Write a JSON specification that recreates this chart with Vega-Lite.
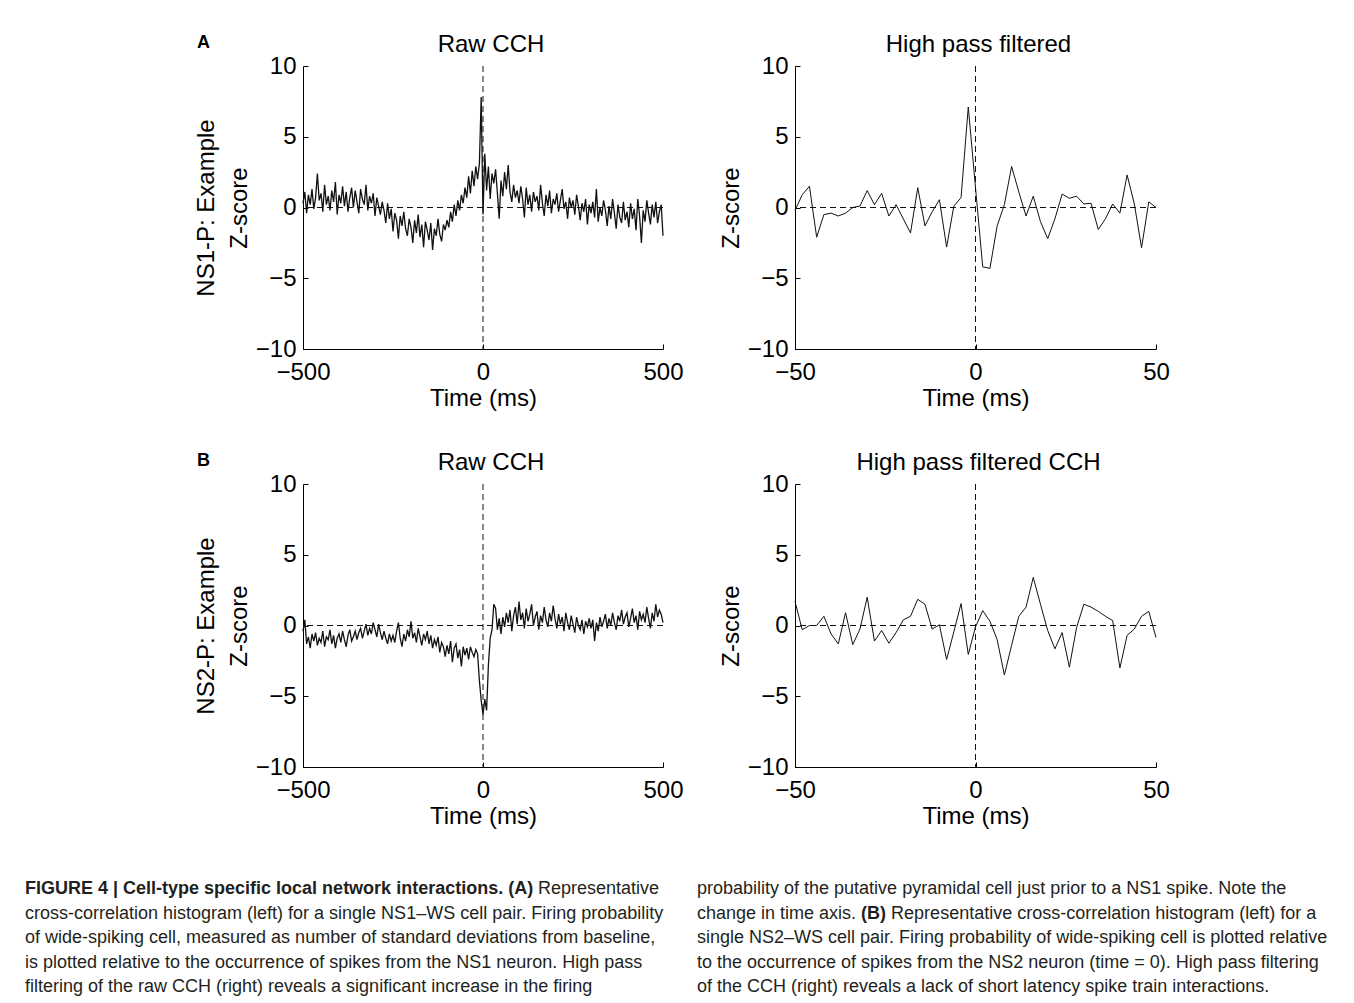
{
"$schema": "https://vega.github.io/schema/vega-lite/v6.json",
"background": "white",
"padding": {"left": 25, "top": 33, "right": 0, "bottom": 0},
"datasets": {
"rawA": [{"t":-500,"z":0.3},{"t":-495,"z":1.1},{"t":-490,"z":-0.4},{"t":-485,"z":0.9},{"t":-480,"z":0.2},{"t":-475,"z":1.3},{"t":-470,"z":-0.1},{"t":-465,"z":0.7},{"t":-460,"z":2.4},{"t":-455,"z":0.5},
{"t":-450,"z":1.0},{"t":-445,"z":-0.3},{"t":-440,"z":1.6},{"t":-435,"z":0.2},{"t":-430,"z":0.8},{"t":-425,"z":-0.2},{"t":-420,"z":1.2},{"t":-415,"z":0.4},{"t":-410,"z":1.8},{"t":-405,"z":-0.5},
{"t":-400,"z":0.9},{"t":-395,"z":0.3},{"t":-390,"z":1.5},{"t":-385,"z":0.1},{"t":-380,"z":1.1},{"t":-375,"z":-0.3},{"t":-370,"z":0.7},{"t":-365,"z":1.4},{"t":-360,"z":0.0},{"t":-355,"z":1.2},
{"t":-350,"z":0.4},{"t":-345,"z":-0.4},{"t":-340,"z":1.3},{"t":-335,"z":0.6},{"t":-330,"z":0.2},{"t":-325,"z":1.6},{"t":-320,"z":-0.2},{"t":-315,"z":0.8},{"t":-310,"z":0.3},{"t":-305,"z":1.0},
{"t":-300,"z":-0.6},{"t":-295,"z":0.7},{"t":-290,"z":0.1},{"t":-285,"z":-0.5},{"t":-280,"z":0.4},{"t":-275,"z":-0.2},{"t":-270,"z":-1.1},{"t":-265,"z":0.3},{"t":-260,"z":-0.8},{"t":-255,"z":-0.1},
{"t":-250,"z":-1.7},{"t":-245,"z":-0.4},{"t":-240,"z":-0.9},{"t":-235,"z":-2.2},{"t":-230,"z":-0.6},{"t":-225,"z":-1.3},{"t":-220,"z":-0.3},{"t":-215,"z":-1.5},{"t":-210,"z":-2.0},{"t":-205,"z":-0.8},
{"t":-200,"z":-1.4},{"t":-195,"z":-2.5},{"t":-190,"z":-0.9},{"t":-185,"z":-1.8},{"t":-180,"z":-0.5},{"t":-175,"z":-2.1},{"t":-170,"z":-1.2},{"t":-165,"z":-2.8},{"t":-160,"z":-1.0},{"t":-155,"z":-1.6},
{"t":-150,"z":-2.3},{"t":-145,"z":-1.1},{"t":-140,"z":-3.0},{"t":-135,"z":-1.5},{"t":-130,"z":-2.0},{"t":-125,"z":-0.8},{"t":-120,"z":-1.9},{"t":-115,"z":-2.4},{"t":-110,"z":-1.2},{"t":-105,"z":-1.6},
{"t":-100,"z":-0.9},{"t":-95,"z":-1.4},{"t":-90,"z":-0.3},{"t":-85,"z":-1.0},{"t":-80,"z":0.2},{"t":-75,"z":-0.6},{"t":-70,"z":0.5},{"t":-65,"z":-0.2},{"t":-60,"z":0.9},{"t":-55,"z":0.3},
{"t":-50,"z":1.4},{"t":-45,"z":0.7},{"t":-40,"z":2.2},{"t":-35,"z":1.0},{"t":-30,"z":2.6},{"t":-25,"z":1.5},{"t":-20,"z":2.9},{"t":-15,"z":2.0},{"t":-10,"z":3.1},{"t":-5,"z":7.8},
{"t":0,"z":-0.5},{"t":5,"z":3.8},{"t":10,"z":1.2},{"t":15,"z":2.9},{"t":20,"z":0.6},{"t":25,"z":2.4},{"t":30,"z":1.7},{"t":35,"z":2.7},{"t":40,"z":1.0},{"t":45,"z":-0.8},
{"t":50,"z":1.9},{"t":55,"z":0.8},{"t":60,"z":2.5},{"t":65,"z":1.3},{"t":70,"z":3.0},{"t":75,"z":1.1},{"t":80,"z":0.4},{"t":85,"z":1.6},{"t":90,"z":0.7},{"t":95,"z":1.2},
{"t":100,"z":0.3},{"t":105,"z":1.5},{"t":110,"z":0.6},{"t":115,"z":-0.7},{"t":120,"z":1.4},{"t":125,"z":0.2},{"t":130,"z":0.9},{"t":135,"z":-0.3},{"t":140,"z":1.1},{"t":145,"z":0.4},
{"t":150,"z":0.8},{"t":155,"z":-0.2},{"t":160,"z":1.6},{"t":165,"z":0.3},{"t":170,"z":-0.6},{"t":175,"z":0.9},{"t":180,"z":0.1},{"t":185,"z":1.2},{"t":190,"z":-0.4},{"t":195,"z":0.6},
{"t":200,"z":0.2},{"t":205,"z":1.0},{"t":210,"z":-0.3},{"t":215,"z":0.5},{"t":220,"z":1.3},{"t":225,"z":-0.1},{"t":230,"z":0.4},{"t":235,"z":-0.8},{"t":240,"z":0.7},{"t":245,"z":0.0},
{"t":250,"z":0.5},{"t":255,"z":-0.5},{"t":260,"z":0.9},{"t":265,"z":0.1},{"t":270,"z":-0.9},{"t":275,"z":0.3},{"t":280,"z":-0.3},{"t":285,"z":0.6},{"t":290,"z":-1.2},{"t":295,"z":0.2},
{"t":300,"z":-0.4},{"t":305,"z":0.4},{"t":310,"z":-0.7},{"t":315,"z":1.3},{"t":320,"z":-1.0},{"t":325,"z":0.0},{"t":330,"z":-0.6},{"t":335,"z":0.5},{"t":340,"z":-0.2},{"t":345,"z":-1.3},
{"t":350,"z":0.1},{"t":355,"z":-0.8},{"t":360,"z":0.6},{"t":365,"z":-0.4},{"t":370,"z":-1.5},{"t":375,"z":0.2},{"t":380,"z":-0.7},{"t":385,"z":-1.1},{"t":390,"z":0.4},{"t":395,"z":-0.9},
{"t":400,"z":-0.3},{"t":405,"z":-1.4},{"t":410,"z":0.3},{"t":415,"z":-0.8},{"t":420,"z":-0.1},{"t":425,"z":-1.6},{"t":430,"z":0.6},{"t":435,"z":-0.6},{"t":440,"z":-2.5},{"t":445,"z":-0.2},
{"t":450,"z":-1.0},{"t":455,"z":0.5},{"t":460,"z":-0.4},{"t":465,"z":-1.2},{"t":470,"z":0.2},{"t":475,"z":-0.7},{"t":480,"z":0.4},{"t":485,"z":-1.1},{"t":490,"z":-0.3},{"t":495,"z":0.2},
{"t":500,"z":-2.0}],
"rawB": [{"t":-500,"z":-0.4},{"t":-495,"z":0.4},{"t":-490,"z":-1.3},{"t":-485,"z":-0.8},{"t":-480,"z":-1.6},{"t":-475,"z":-0.6},{"t":-470,"z":-1.1},{"t":-465,"z":-0.5},{"t":-460,"z":-1.4},{"t":-455,"z":-0.9},
{"t":-450,"z":-1.2},{"t":-445,"z":-0.4},{"t":-440,"z":-1.5},{"t":-435,"z":-0.8},{"t":-430,"z":-1.0},{"t":-425,"z":-0.3},{"t":-420,"z":-1.3},{"t":-415,"z":-0.7},{"t":-410,"z":-1.6},{"t":-405,"z":-0.9},
{"t":-400,"z":-0.6},{"t":-395,"z":-1.2},{"t":-390,"z":-0.4},{"t":-385,"z":-1.0},{"t":-380,"z":-1.5},{"t":-375,"z":-0.7},{"t":-370,"z":-0.3},{"t":-365,"z":-1.1},{"t":-360,"z":-0.8},{"t":-355,"z":-0.4},
{"t":-350,"z":-1.0},{"t":-345,"z":-0.5},{"t":-340,"z":-0.2},{"t":-335,"z":-0.9},{"t":-330,"z":-0.4},{"t":-325,"z":0.1},{"t":-320,"z":-0.7},{"t":-315,"z":-0.2},{"t":-310,"z":-0.6},{"t":-305,"z":0.2},
{"t":-300,"z":-0.3},{"t":-295,"z":-0.8},{"t":-290,"z":0.1},{"t":-285,"z":-0.5},{"t":-280,"z":-1.0},{"t":-275,"z":-0.4},{"t":-270,"z":-0.9},{"t":-265,"z":-1.3},{"t":-260,"z":-0.6},{"t":-255,"z":-1.1},
{"t":-250,"z":-0.7},{"t":-245,"z":-1.2},{"t":-240,"z":-0.4},{"t":-235,"z":0.2},{"t":-230,"z":-0.9},{"t":-225,"z":-1.5},{"t":-220,"z":-0.6},{"t":-215,"z":-1.1},{"t":-210,"z":-0.3},{"t":-205,"z":-0.8},
{"t":-200,"z":0.3},{"t":-195,"z":-0.9},{"t":-190,"z":-0.5},{"t":-185,"z":-1.2},{"t":-180,"z":-0.2},{"t":-175,"z":-0.8},{"t":-170,"z":-1.4},{"t":-165,"z":-0.6},{"t":-160,"z":-1.0},{"t":-155,"z":-0.4},
{"t":-150,"z":-1.3},{"t":-145,"z":-0.7},{"t":-140,"z":-1.6},{"t":-135,"z":-1.0},{"t":-130,"z":-1.4},{"t":-125,"z":-0.8},{"t":-120,"z":-1.9},{"t":-115,"z":-1.2},{"t":-110,"z":-1.5},{"t":-105,"z":-2.2},
{"t":-100,"z":-1.4},{"t":-95,"z":-2.0},{"t":-90,"z":-1.1},{"t":-85,"z":-2.6},{"t":-80,"z":-1.6},{"t":-75,"z":-1.3},{"t":-70,"z":-2.3},{"t":-65,"z":-1.7},{"t":-60,"z":-2.9},{"t":-55,"z":-1.5},
{"t":-50,"z":-2.1},{"t":-45,"z":-1.6},{"t":-40,"z":-2.4},{"t":-35,"z":-1.5},{"t":-30,"z":-1.9},{"t":-25,"z":-2.2},{"t":-20,"z":-1.7},{"t":-15,"z":-2.0},{"t":-10,"z":-3.9},{"t":-5,"z":-5.3},
{"t":0,"z":-6.3},{"t":5,"z":-5.2},{"t":10,"z":-6.0},{"t":15,"z":-2.8},{"t":20,"z":-0.9},{"t":25,"z":-0.3},{"t":30,"z":1.5},{"t":35,"z":1.2},{"t":40,"z":-0.3},{"t":45,"z":0.5},
{"t":50,"z":-0.6},{"t":55,"z":0.6},{"t":60,"z":-0.1},{"t":65,"z":0.9},{"t":70,"z":0.2},{"t":75,"z":1.1},{"t":80,"z":-0.4},{"t":85,"z":0.7},{"t":90,"z":1.3},{"t":95,"z":0.1},
{"t":100,"z":1.7},{"t":105,"z":0.4},{"t":110,"z":0.9},{"t":115,"z":-0.2},{"t":120,"z":1.2},{"t":125,"z":0.3},{"t":130,"z":0.8},{"t":135,"z":1.5},{"t":140,"z":0.0},{"t":145,"z":0.6},
{"t":150,"z":1.0},{"t":155,"z":-0.3},{"t":160,"z":0.7},{"t":165,"z":0.2},{"t":170,"z":1.3},{"t":175,"z":0.4},{"t":180,"z":-0.1},{"t":185,"z":0.9},{"t":190,"z":0.3},{"t":195,"z":1.4},
{"t":200,"z":0.5},{"t":205,"z":-0.2},{"t":210,"z":0.8},{"t":215,"z":0.1},{"t":220,"z":0.6},{"t":225,"z":-0.4},{"t":230,"z":0.9},{"t":235,"z":0.2},{"t":240,"z":-0.3},{"t":245,"z":0.7},
{"t":250,"z":0.1},{"t":255,"z":-0.5},{"t":260,"z":0.6},{"t":265,"z":0.0},{"t":270,"z":-0.3},{"t":275,"z":0.4},{"t":280,"z":-0.6},{"t":285,"z":0.3},{"t":290,"z":-0.1},{"t":295,"z":0.5},
{"t":300,"z":-0.2},{"t":305,"z":0.4},{"t":310,"z":-1.1},{"t":315,"z":0.2},{"t":320,"z":-0.4},{"t":325,"z":0.6},{"t":330,"z":-0.1},{"t":335,"z":0.3},{"t":340,"z":0.8},{"t":345,"z":-0.2},
{"t":350,"z":0.5},{"t":355,"z":0.0},{"t":360,"z":0.9},{"t":365,"z":0.2},{"t":370,"z":-0.3},{"t":375,"z":0.7},{"t":380,"z":0.3},{"t":385,"z":1.1},{"t":390,"z":0.1},{"t":395,"z":0.6},
{"t":400,"z":0.9},{"t":405,"z":-0.1},{"t":410,"z":0.5},{"t":415,"z":1.2},{"t":420,"z":0.2},{"t":425,"z":0.7},{"t":430,"z":-0.3},{"t":435,"z":1.0},{"t":440,"z":0.4},{"t":445,"z":0.8},
{"t":450,"z":0.2},{"t":455,"z":1.3},{"t":460,"z":0.5},{"t":465,"z":-0.2},{"t":470,"z":0.9},{"t":475,"z":0.3},{"t":480,"z":1.5},{"t":485,"z":0.6},{"t":490,"z":1.1},{"t":495,"z":0.8},
{"t":500,"z":0.2}],
"hpA": [{"t":-50,"z":-0.2},{"t":-48,"z":0.9},{"t":-46,"z":1.5},{"t":-44,"z":-2.1},{"t":-42,"z":-0.5},{"t":-40,"z":-0.4},{"t":-38,"z":-0.6},{"t":-36,"z":-0.4},{"t":-34,"z":0.0},{"t":-32,"z":0.1},
{"t":-30,"z":1.2},{"t":-28,"z":0.2},{"t":-26,"z":1.0},{"t":-24,"z":-0.6},{"t":-22,"z":0.2},{"t":-20,"z":-0.8},{"t":-18,"z":-1.8},{"t":-16,"z":1.4},{"t":-14,"z":-1.3},{"t":-12,"z":-0.3},
{"t":-10,"z":0.55},{"t":-8,"z":-2.8},{"t":-6,"z":0.1},{"t":-4,"z":0.7},{"t":-2,"z":7.1},{"t":0,"z":1.4},{"t":2,"z":-4.2},{"t":4,"z":-4.3},{"t":6,"z":-1.3},{"t":8,"z":0.2},
{"t":10,"z":2.9},{"t":12,"z":1.1},{"t":14,"z":-0.6},{"t":16,"z":0.8},{"t":18,"z":-1.0},{"t":20,"z":-2.2},{"t":22,"z":-0.8},{"t":24,"z":0.95},{"t":26,"z":0.65},{"t":28,"z":0.8},
{"t":30,"z":0.25},{"t":32,"z":0.3},{"t":34,"z":-1.55},{"t":36,"z":-0.8},{"t":38,"z":0.25},{"t":40,"z":-0.4},{"t":42,"z":2.3},{"t":44,"z":0.25},{"t":46,"z":-2.85},{"t":48,"z":0.4},{"t":50,"z":0.0}],
"hpB": [{"t":-50,"z":1.7},{"t":-48,"z":-0.3},{"t":-46,"z":0.0},{"t":-44,"z":0.0},{"t":-42,"z":0.65},{"t":-40,"z":-0.6},{"t":-38,"z":-1.3},{"t":-36,"z":0.9},{"t":-34,"z":-1.35},{"t":-32,"z":-0.25},
{"t":-30,"z":2.0},{"t":-28,"z":-1.1},{"t":-26,"z":-0.35},{"t":-24,"z":-1.25},{"t":-22,"z":-0.5},{"t":-20,"z":0.4},{"t":-18,"z":0.65},{"t":-16,"z":1.85},{"t":-14,"z":1.5},{"t":-12,"z":-0.25},
{"t":-10,"z":0.05},{"t":-8,"z":-2.4},{"t":-6,"z":-0.45},{"t":-4,"z":1.55},{"t":-2,"z":-2.05},{"t":0,"z":-0.1},{"t":2,"z":1.05},{"t":4,"z":0.3},{"t":6,"z":-1.0},{"t":8,"z":-3.5},
{"t":10,"z":-1.4},{"t":12,"z":0.65},{"t":14,"z":1.3},{"t":16,"z":3.4},{"t":18,"z":1.5},{"t":20,"z":-0.35},{"t":22,"z":-1.65},{"t":24,"z":-0.5},{"t":26,"z":-2.95},{"t":28,"z":-0.15},
{"t":30,"z":1.5},{"t":32,"z":1.3},{"t":34,"z":1.0},{"t":36,"z":0.65},{"t":38,"z":0.35},{"t":40,"z":-3.0},{"t":42,"z":-0.7},{"t":44,"z":-0.25},{"t":46,"z":0.65},{"t":48,"z":1.0},{"t":50,"z":-0.85}],
"capL": [
{"line":1,"part":"bold","text":"FIGURE 4 | Cell-type specific local network interactions. (A)"},
{"line":1,"part":"after","text":"Representative"},
{"line":2,"part":"main","text":"cross-correlation histogram (left) for a single NS1–WS cell pair. Firing probability"},
{"line":3,"part":"main","text":"of wide-spiking cell, measured as number of standard deviations from baseline,"},
{"line":4,"part":"main","text":"is plotted relative to the occurrence of spikes from the NS1 neuron. High pass"},
{"line":5,"part":"main","text":"filtering of the raw CCH (right) reveals a significant increase in the firing"}],
"capR": [
{"line":1,"part":"main","text":"probability of the putative pyramidal cell just prior to a NS1 spike. Note the"},
{"line":2,"part":"main","text":"change in time axis."},
{"line":2,"part":"bold","text":"(B)"},
{"line":2,"part":"after","text":"Representative cross-correlation histogram (left) for a"},
{"line":3,"part":"main","text":"single NS2–WS cell pair. Firing probability of wide-spiking cell is plotted relative"},
{"line":4,"part":"main","text":"to the occurrence of spikes from the NS2 neuron (time = 0). High pass filtering"},
{"line":5,"part":"main","text":"of the CCH (right) reveals a lack of short latency spike train interactions."}]
},
"vconcat": [
{
"columns": 3,
"bounds": "flush",
"spacing": {"row": 135, "column": 132},
"concat": [
{"width": 146, "height": 283,
 "title": {"text": "A", "anchor": "end", "fontWeight": "bold", "fontSize": 18, "offset": 14, "dx": 39},
 "data": {"values": [{}]}, "mark": {"type": "text", "text": ""}},
{"width": 360, "height": 283,
 "title": {"text": "Raw CCH", "dx": 8},
 "layer": [
  {"data": {"values": [{}]}, "mark": {"type": "rule", "strokeDash": [6, 4], "color": "#111", "strokeWidth": 1}, "encoding": {"y": {"datum": 0}}},
  {"data": {"values": [{}]}, "mark": {"type": "rule", "strokeDash": [6, 4], "color": "#111", "strokeWidth": 1}, "encoding": {"x": {"datum": 0}}},
  {"data": {"name": "rawA"}, "mark": {"type": "line", "color": "#111", "strokeWidth": 1.3},
   "encoding": {
    "x": {"field": "t", "type": "quantitative", "scale": {"domain": [-500, 500], "nice": false}, "axis": {"values": [-500, 0, 500], "title": "Time (ms)"}},
    "y": {"field": "z", "type": "quantitative", "scale": {"domain": [-10, 10], "nice": false}, "axis": {"values": [-10, -5, 0, 5, 10], "title": ["NS1-P: Example", "Z-score"]}}}}
 ]},
{"width": 361, "height": 283,
 "title": {"text": "High pass filtered", "dx": 3},
 "layer": [
  {"data": {"values": [{}]}, "mark": {"type": "rule", "strokeDash": [6, 4], "color": "#111", "strokeWidth": 1}, "encoding": {"y": {"datum": 0}}},
  {"data": {"values": [{}]}, "mark": {"type": "rule", "strokeDash": [6, 4], "color": "#111", "strokeWidth": 1}, "encoding": {"x": {"datum": 0}}},
  {"data": {"name": "hpA"}, "mark": {"type": "line", "color": "#111", "strokeWidth": 1},
   "encoding": {
    "x": {"field": "t", "type": "quantitative", "scale": {"domain": [-50, 50], "nice": false}, "axis": {"values": [-50, 0, 50], "title": "Time (ms)"}},
    "y": {"field": "z", "type": "quantitative", "scale": {"domain": [-10, 10], "nice": false}, "axis": {"values": [-10, -5, 0, 5, 10], "title": "Z-score"}}}}
 ]},
{"width": 146, "height": 283,
 "title": {"text": "B", "anchor": "end", "fontWeight": "bold", "fontSize": 18, "offset": 14, "dx": 39},
 "data": {"values": [{}]}, "mark": {"type": "text", "text": ""}},
{"width": 360, "height": 283,
 "title": {"text": "Raw CCH", "dx": 8},
 "layer": [
  {"data": {"values": [{}]}, "mark": {"type": "rule", "strokeDash": [6, 4], "color": "#111", "strokeWidth": 1}, "encoding": {"y": {"datum": 0}}},
  {"data": {"values": [{}]}, "mark": {"type": "rule", "strokeDash": [6, 4], "color": "#111", "strokeWidth": 1}, "encoding": {"x": {"datum": 0}}},
  {"data": {"name": "rawB"}, "mark": {"type": "line", "color": "#111", "strokeWidth": 1.3},
   "encoding": {
    "x": {"field": "t", "type": "quantitative", "scale": {"domain": [-500, 500], "nice": false}, "axis": {"values": [-500, 0, 500], "title": "Time (ms)"}},
    "y": {"field": "z", "type": "quantitative", "scale": {"domain": [-10, 10], "nice": false}, "axis": {"values": [-10, -5, 0, 5, 10], "title": ["NS2-P: Example", "Z-score"]}}}}
 ]},
{"width": 361, "height": 283,
 "title": {"text": "High pass filtered CCH", "dx": 3},
 "layer": [
  {"data": {"values": [{}]}, "mark": {"type": "rule", "strokeDash": [6, 4], "color": "#111", "strokeWidth": 1}, "encoding": {"y": {"datum": 0}}},
  {"data": {"values": [{}]}, "mark": {"type": "rule", "strokeDash": [6, 4], "color": "#111", "strokeWidth": 1}, "encoding": {"x": {"datum": 0}}},
  {"data": {"name": "hpB"}, "mark": {"type": "line", "color": "#111", "strokeWidth": 1},
   "encoding": {
    "x": {"field": "t", "type": "quantitative", "scale": {"domain": [-50, 50], "nice": false}, "axis": {"values": [-50, 0, 50], "title": "Time (ms)"}},
    "y": {"field": "z", "type": "quantitative", "scale": {"domain": [-10, 10], "nice": false}, "axis": {"values": [-10, -5, 0, 5, 10], "title": "Z-score"}}}}
 ]}
]
},
{
"bounds": "flush",
"spacing": 22,
"hconcat": [
{"width": 650, "height": {"step": 24.5},
 "data": {"name": "capL"},
 "encoding": {
  "y": {"field": "line", "type": "ordinal", "axis": null},
  "x": {"datum": 0, "type": "quantitative", "scale": {"domain": [0, 1]}, "axis": null},
  "text": {"field": "text"}},
 "layer": [
  {"transform": [{"filter": "datum.part === 'main'"}], "mark": {"type": "text", "align": "left", "baseline": "middle"}},
  {"transform": [{"filter": "datum.part === 'bold'"}], "mark": {"type": "text", "align": "left", "baseline": "middle", "fontWeight": "bold"}},
  {"transform": [{"filter": "datum.part === 'after'"}], "mark": {"type": "text", "align": "left", "baseline": "middle", "dx": 513}}
 ]},
{"width": 640, "height": {"step": 24.5},
 "data": {"name": "capR"},
 "encoding": {
  "y": {"field": "line", "type": "ordinal", "axis": null},
  "x": {"datum": 0, "type": "quantitative", "scale": {"domain": [0, 1]}, "axis": null},
  "text": {"field": "text"}},
 "layer": [
  {"transform": [{"filter": "datum.part === 'main'"}], "mark": {"type": "text", "align": "left", "baseline": "middle"}},
  {"transform": [{"filter": "datum.part === 'bold'"}], "mark": {"type": "text", "align": "left", "baseline": "middle", "fontWeight": "bold", "dx": 164.1}},
  {"transform": [{"filter": "datum.part === 'after'"}], "mark": {"type": "text", "align": "left", "baseline": "middle", "dx": 194.1}}
 ]}
]
}
],
"spacing": 49,
"config": {
 "font": "Liberation Sans",
 "view": {"stroke": null, "fill": "white"},
 "text": {"font": "Liberation Sans", "fontSize": 18, "color": "#231f20"},
 "title": {"font": "Liberation Sans", "fontSize": 24, "fontWeight": "normal", "color": "#000", "frame": "group", "baseline": "alphabetic", "offset": -3},
 "axis": {"domainColor": "#000", "domainWidth": 1, "tickColor": "#000", "tickSize": -5, "tickWidth": 1,
  "labelFont": "Liberation Sans", "labelFontSize": 24, "labelColor": "#000",
  "titleFont": "Liberation Sans", "titleFontSize": 24, "titleFontWeight": "normal", "titleColor": "#000",
  "grid": false, "labelFlush": false, "labelOverlap": false, "labelPadding": 12, "titlePadding": 4},
 "axisX": {"labelPadding": 16, "titlePadding": 2},
 "axisY": {"titleLineHeight": 33}
}
}
